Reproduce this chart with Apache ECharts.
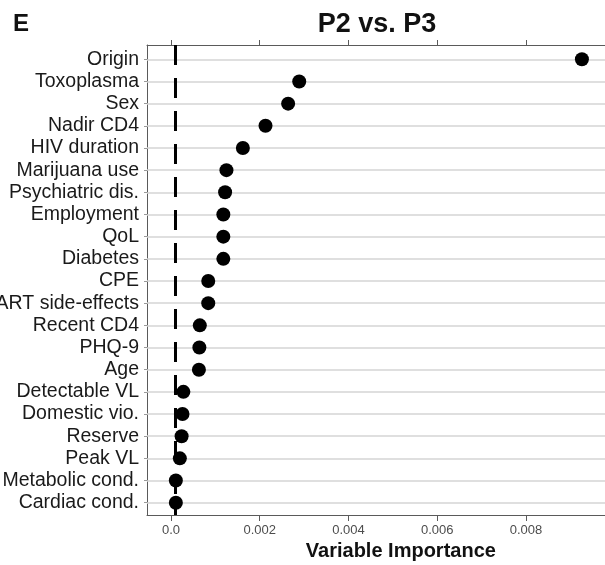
<!DOCTYPE html>
<html>
<head>
<meta charset="utf-8">
<script src="https://cdn.jsdelivr.net/npm/echarts@6/dist/echarts.min.js"></script>
<style>
html,body{margin:0;padding:0;background:#fff;}
#c{width:605px;height:565px;}
</style>
</head>
<body>
<div id="c"></div>
<script>
const categories = ['Origin','Toxoplasma','Sex','Nadir CD4','HIV duration','Marijuana use','Psychiatric dis.','Employment','QoL','Diabetes','CPE','ART side-effects','Recent CD4','PHQ-9','Age','Detectable VL','Domestic vio.','Reserve','Peak VL','Metabolic cond.','Cardiac cond.'];
const importance = [0.00926,0.00289,0.00264,0.00213,0.00162,0.00125,0.00122,0.00118,0.00118,0.00118,0.00084,0.00084,0.00065,0.00064,0.00063,0.00028,0.00026,0.00024,0.00020,0.00011,0.00011];
const xTicks = [0,0.002,0.004,0.006,0.008];
const cutoff = 0.0001;
const panelLetter = 'E';
const panelTitle = 'P2 vs. P3';
const xTitle = 'Variable Importance';

const rowIdx = categories.map((c,i)=>i);
const FONT = '"Liberation Sans", Arial, sans-serif';
const chart = echarts.init(document.getElementById('c'), null, {renderer:'canvas'});
const axisGray = '#5a5a5a';
chart.setOption({
  animation:false,
  backgroundColor:'#fff',
  graphic:[
    {type:'text', x:13, y:24, style:{text:panelLetter, font:'bold 24px '+FONT, fill:'#111', textAlign:'left', textVerticalAlign:'middle'}},
    {type:'text', x:377, y:25, style:{text:panelTitle, font:'bold 27px '+FONT, fill:'#111', textAlign:'center', textVerticalAlign:'middle'}}
  ],
  grid:{left:147, top:45, width:507.7, height:470, containLabel:false, outerBoundsMode:'none'},
  xAxis:[{
    type:'value', position:'bottom', min:-0.00054, max:0.0109,
    axisLine:{show:true, onZero:false, lineStyle:{color:axisGray, width:1}},
    axisTick:{show:true, length:6, customValues:xTicks, lineStyle:{color:axisGray}},
    axisLabel:{show:true, customValues:xTicks, margin:9, color:'#4d4d4d', fontSize:13, fontFamily:FONT,
      formatter:v=> v===0 ? '0.0' : v.toFixed(3)},
    splitLine:{show:false},
    name:xTitle, nameLocation:'middle', nameGap:23,
    nameTextStyle:{fontSize:20, fontWeight:'bold', color:'#111', fontFamily:FONT}
  },{
    type:'value', position:'top', min:-0.00054, max:0.0109,
    axisLine:{show:true, onZero:false, lineStyle:{color:axisGray, width:1}},
    axisTick:{show:true, length:5, customValues:xTicks, lineStyle:{color:axisGray}},
    axisLabel:{show:false},
    splitLine:{show:false}
  }],
  yAxis:{
    type:'value', inverse:true, min:-0.645, max:20.555,
    axisLine:{show:true, onZero:false, lineStyle:{color:axisGray, width:1}},
    axisTick:{show:true, length:3, customValues:rowIdx, lineStyle:{color:'#999'}},
    axisLabel:{show:true, customValues:rowIdx, margin:8, color:'#1a1a1a', fontSize:19.5, fontFamily:FONT,
      formatter:v=>categories[Math.round(v)]},
    splitLine:{show:false}
  },
  series:[{
    type:'scatter', data:[], silent:true, z:1,
    markLine:{silent:true, symbol:'none', z:1, label:{show:false},
      lineStyle:{color:'#d4d4d4', width:1.6, type:'solid'},
      data:rowIdx.map(i=>({yAxis:i}))}
  },{
    type:'scatter', z:3, symbol:'circle', symbolSize:14,
    itemStyle:{color:'#000', opacity:1},
    data:importance.map((v,i)=>[v,i]),
    markLine:{silent:true, symbol:'none', z:2, precision:8, label:{show:false},
      lineStyle:{color:'#000', width:3, type:[20,13], opacity:1},
      data:[{xAxis:cutoff}]}
  }]
});
</script>
</body>
</html>
